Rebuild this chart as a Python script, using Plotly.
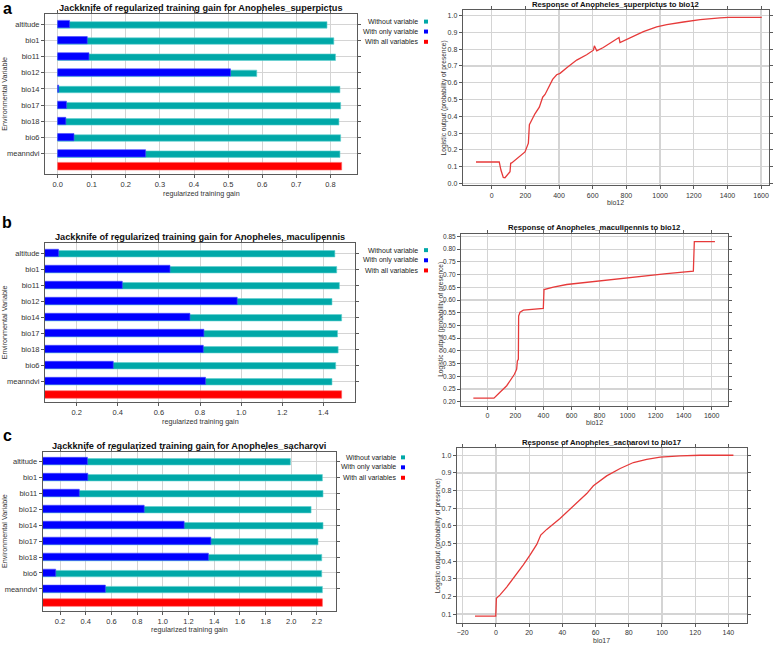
import plotly.graph_objects as go

W, H = 778, 645
FONT = "Liberation Sans, Arial, sans-serif"

# ---------------- data ----------------
variables = ["altitude", "bio1", "bio11", "bio12", "bio14", "bio17", "bio18", "bio6", "meanndvi"]

a_without = [0.790, 0.810, 0.815, 0.584, 0.828, 0.830, 0.825, 0.830, 0.828]
a_only = [0.035, 0.087, 0.092, 0.507, 0.003, 0.026, 0.024, 0.048, 0.258]
a_all = 0.833

b_without = [1.456, 1.465, 1.478, 1.442, 1.489, 1.469, 1.472, 1.460, 1.442]
b_only = [0.112, 0.654, 0.422, 0.981, 0.751, 0.819, 0.816, 0.378, 0.827]
b_all = 1.489

c_without = [1.993, 2.242, 2.247, 2.154, 2.247, 2.208, 2.237, 2.237, 2.242]
c_only = [0.413, 0.416, 0.350, 0.855, 1.166, 1.374, 1.355, 0.166, 0.553]
c_all = 2.242

# response curves
ra_x = [-93, 45, 55, 69, 79, 93, 109, 113, 119, 198, 218, 224, 257, 283, 303, 317, 362, 386, 406,
        446, 505, 564, 604, 610, 624, 663, 743, 756, 762, 802, 842, 901, 980, 1040, 1139, 1238,
        1356, 1406, 1604]
ra_y = [0.128, 0.128, 0.080, 0.036, 0.034, 0.050, 0.070, 0.120, 0.122, 0.188, 0.240, 0.350, 0.415,
        0.455, 0.514, 0.530, 0.620, 0.648, 0.656, 0.690, 0.735, 0.767, 0.794, 0.820, 0.790, 0.810,
        0.866, 0.870, 0.840, 0.860, 0.880, 0.905, 0.933, 0.947, 0.962, 0.976, 0.986, 0.990, 0.990]

rb_x = [-100, 47, 90, 138, 193, 209, 214, 221, 223, 233, 257, 399, 404, 423, 459, 471, 566, 803,
        1041, 1279, 1469, 1476, 1623]
rb_y = [0.214, 0.214, 0.237, 0.263, 0.308, 0.328, 0.360, 0.367, 0.537, 0.552, 0.560, 0.567, 0.641,
        0.644, 0.648, 0.651, 0.661, 0.676, 0.691, 0.704, 0.714, 0.830, 0.830]

rc_x = [-12.6, -0.1, 0.3, 2.5, 6.5, 11.5, 16.5, 20.6, 24.6, 27.0, 30.6, 38.6, 46.7, 54.7, 58.7,
        66.7, 74.8, 82.8, 90.8, 98.9, 110.9, 123.0, 143.0]
rc_y = [0.089, 0.089, 0.190, 0.209, 0.253, 0.313, 0.379, 0.435, 0.495, 0.548, 0.580, 0.642, 0.714,
        0.783, 0.827, 0.883, 0.925, 0.959, 0.977, 0.989, 0.996, 1.000, 1.000]

jack_titles = ["Jackknife of regularized training gain for Anopheles_superpictus",
               "Jackknife of regularized training gain for Anopheles_maculipennis",
               "Jackknife of regularized training gain for Anopheles_sacharovi"]
resp_titles = ["Response of Anopheles_superpictus to bio12",
               "Response of Anopheles_maculipennis to bio12",
               "Response of Anopheles_sacharovi to bio17"]
resp_xlabels = ["bio12", "bio12", "bio17"]
legend_labels = ["Without variable", "With only variable", "With all variables"]
panel_letters = ["a", "b", "c"]

TEAL = "#00a8a8"
BLUE = "#0000ff"
RED = "#ff0000"
LINE_RED = "#e63a3a"
GRID = "#d4d4d4"
FRAME = "#5a5a5a"


def fx(px):
    return px / W


def fy(py):
    return 1 - py / H


fig = go.Figure()
annotations = []
shapes = []

# ---------- layout boxes (pixels) ----------
jack_boxes = [(45, 357, 13.3, 174), (45, 355, 243.3, 403.3), (42.7, 336, 453.3, 612.7)]
jack_xrange = [(-0.037, 0.878), (0.046, 1.554), (0.065, 2.348)]
jack_yrange = [(9.28, -0.62), (9.33, -0.62), (9.37, -0.56)]
jack_dtick = [0.1, 0.2, 0.2]
red_gap = [0.78, 0.83, 0.85]
jack_data = [(a_without, a_only, a_all), (b_without, b_only, b_all), (c_without, c_only, c_all)]
legend_pos = [(420, 426, [20.7, 30.7, 41.0]), (420, 426, [250.3, 260.5, 270.7]),
              (398, 403, [458.5, 468.5, 479.0])]
letter_pos = [(7, 8), (7, 223), (7, 437)]

resp_boxes = [(462.7, 769, 9.3, 185), (461, 727.7, 234, 406.7), (456.7, 746.7, 449.3, 625)]
resp_xrange = [(-172, 1647), (-188, 1714), (-23.6, 151)]
resp_yrange = [(-0.01, 1.032), (0.184, 0.860), (0.049, 1.04)]
resp_xdtick = [200, 200, 20]
resp_ydtick = [0.1, 0.05, 0.1]
resp_yfmt = [".1f", ".2f", ".1f"]
resp_yfont = [7, 6.5, 7]
resp_ytitle_dx = [19, 20, 19]
resp_data = [(ra_x, ra_y), (rb_x, rb_y), (rc_x, rc_y)]

layout_axes = {}
n = len(variables)
ypos = list(range(n))

for k in range(3):
    xa = 2 * k + 1
    xr = 2 * k + 2
    xid = "x" if xa == 1 else f"x{xa}"
    yid = "y" if xa == 1 else f"y{xa}"
    wo, on, al = jack_data[k]
    l, r, t, b = jack_boxes[k]

    fig.add_trace(go.Bar(y=ypos, x=wo, orientation="h",
                         marker=dict(color=TEAL, line=dict(width=0.6, color="#5fd0d0")),
                         width=0.40, offset=-0.16, xaxis=xid, yaxis=yid, showlegend=False))
    fig.add_trace(go.Bar(y=ypos, x=on, orientation="h",
                         marker=dict(color=BLUE, line=dict(width=0.6, color="#4a4aff")),
                         width=0.45, offset=-0.24, xaxis=xid, yaxis=yid, showlegend=False))
    fig.add_trace(go.Bar(y=[n - 1 + red_gap[k]], x=[al], orientation="h",
                         marker=dict(color=RED, line=dict(width=0.6, color="#ff6060")),
                         width=0.47, offset=-0.23, xaxis=xid, yaxis=yid, showlegend=False))

    layout_axes["xaxis" if xa == 1 else f"xaxis{xa}"] = dict(
        domain=[fx(l), fx(r)], anchor=yid, range=list(jack_xrange[k]), dtick=jack_dtick[k],
        tick0=0, tickformat=".1f", showgrid=True, gridcolor=GRID, gridwidth=1,
        zeroline=False, showline=True, linecolor=FRAME, linewidth=1, mirror="ticks",
        ticks="outside", ticklen=3, tickcolor=FRAME,
        tickfont=dict(size=7.5, color="#333", family=FONT))
    layout_axes["yaxis" if xa == 1 else f"yaxis{xa}"] = dict(
        domain=[fy(b), fy(t)], anchor=xid, range=list(jack_yrange[k]), tickvals=ypos,
        ticktext=variables, showgrid=True, gridcolor=GRID, gridwidth=1, zeroline=False,
        showline=True, linecolor=FRAME, linewidth=1, mirror="ticks", ticks="outside",
        ticklen=3, tickcolor=FRAME, tickfont=dict(size=7.5, color="#333", family=FONT))

    annotations.append(dict(text="<b>" + jack_titles[k] + "</b>", x=fx((l + r) / 2), y=fy(t - 6.5),
                            xref="paper", yref="paper", showarrow=False, xanchor="center",
                            yanchor="middle", font=dict(size=9.2, color="#111", family=FONT)))
    annotations.append(dict(text="regularized training gain", x=fx((l + r) / 2), y=fy(b + 19),
                            xref="paper", yref="paper", showarrow=False, xanchor="center",
                            yanchor="middle", font=dict(size=7.2, color="#333", family=FONT)))
    annotations.append(dict(text="Environmental Variable", x=fx(4.5), y=fy((t + b) / 2),
                            xref="paper", yref="paper", showarrow=False, textangle=-90,
                            xanchor="center", yanchor="middle",
                            font=dict(size=7.2, color="#333", family=FONT)))
    annotations.append(dict(text="<b>" + panel_letters[k] + "</b>", x=fx(letter_pos[k][0]),
                            y=fy(letter_pos[k][1]), xref="paper", yref="paper", showarrow=False,
                            xanchor="center", yanchor="middle",
                            font=dict(size=16, color="#000", family=FONT)))
    tx, sx, ys = legend_pos[k]
    for lab, col, yy in zip(legend_labels, [TEAL, BLUE, RED], ys):
        annotations.append(dict(text=lab, x=fx(tx), y=fy(yy), xref="paper", yref="paper",
                                showarrow=False, xanchor="right", yanchor="middle",
                                font=dict(size=7, color="#222", family=FONT)))
        shapes.append(dict(type="rect", xref="paper", yref="paper", x0=fx(sx - 2), x1=fx(sx + 2),
                           y0=fy(yy + 2), y1=fy(yy - 2), fillcolor=col, line=dict(width=0)))

    # ---------- response panel ----------
    xid2 = f"x{xr}"
    yid2 = f"y{xr}"
    rl, rr, rt, rb_ = resp_boxes[k]
    cx, cy = resp_data[k]
    fig.add_trace(go.Scatter(x=cx, y=cy, mode="lines", line=dict(color=LINE_RED, width=1.3),
                             xaxis=xid2, yaxis=yid2, showlegend=False))
    layout_axes[f"xaxis{xr}"] = dict(
        domain=[fx(rl), fx(rr)], anchor=yid2, range=list(resp_xrange[k]), dtick=resp_xdtick[k],
        tick0=0, showgrid=True, gridcolor=GRID, gridwidth=1.2, zeroline=False, showline=True,
        linecolor=FRAME, linewidth=1, mirror="ticks", ticks="outside", ticklen=3,
        tickcolor=FRAME, tickfont=dict(size=7, color="#333", family=FONT))
    layout_axes[f"yaxis{xr}"] = dict(
        domain=[fy(rb_), fy(rt)], anchor=xid2, range=list(resp_yrange[k]), dtick=resp_ydtick[k],
        tick0=0, tickformat=resp_yfmt[k], showgrid=True, gridcolor=GRID, gridwidth=1.2,
        zeroline=False, showline=True, linecolor=FRAME, linewidth=1, mirror="ticks",
        ticks="outside", ticklen=3, tickcolor=FRAME,
        tickfont=dict(size=resp_yfont[k], color="#333", family=FONT))
    annotations.append(dict(text="<b>" + resp_titles[k] + "</b>", x=fx((rl + rr) / 2), y=fy(rt - 6),
                            xref="paper", yref="paper", showarrow=False, xanchor="center",
                            yanchor="middle", font=dict(size=7.7, color="#111", family=FONT)))
    annotations.append(dict(text=resp_xlabels[k], x=fx((rl + rr) / 2), y=fy(rb_ + 17),
                            xref="paper", yref="paper", showarrow=False, xanchor="center",
                            yanchor="middle", font=dict(size=7, color="#333", family=FONT)))
    annotations.append(dict(text="Logistic output (probability of presence)",
                            x=fx(rl - resp_ytitle_dx[k]), y=fy((rt + rb_) / 2), xref="paper",
                            yref="paper", showarrow=False, textangle=-90, xanchor="center",
                            yanchor="middle", font=dict(size=6.6, color="#333", family=FONT)))

fig.update_layout(
    width=W, height=H, margin=dict(l=0, r=0, t=0, b=0), paper_bgcolor="white",
    plot_bgcolor="white", barmode="overlay", showlegend=False, font=dict(family=FONT),
    hovermode=False, dragmode=False,
    annotations=annotations, shapes=shapes, **layout_axes)

fig.write_html("out.html",
               config={"displayModeBar": False, "staticPlot": True},
               post_script="document.body.style.margin='0';document.body.style.padding='0';"
                           "document.body.style.overflow='hidden';")
